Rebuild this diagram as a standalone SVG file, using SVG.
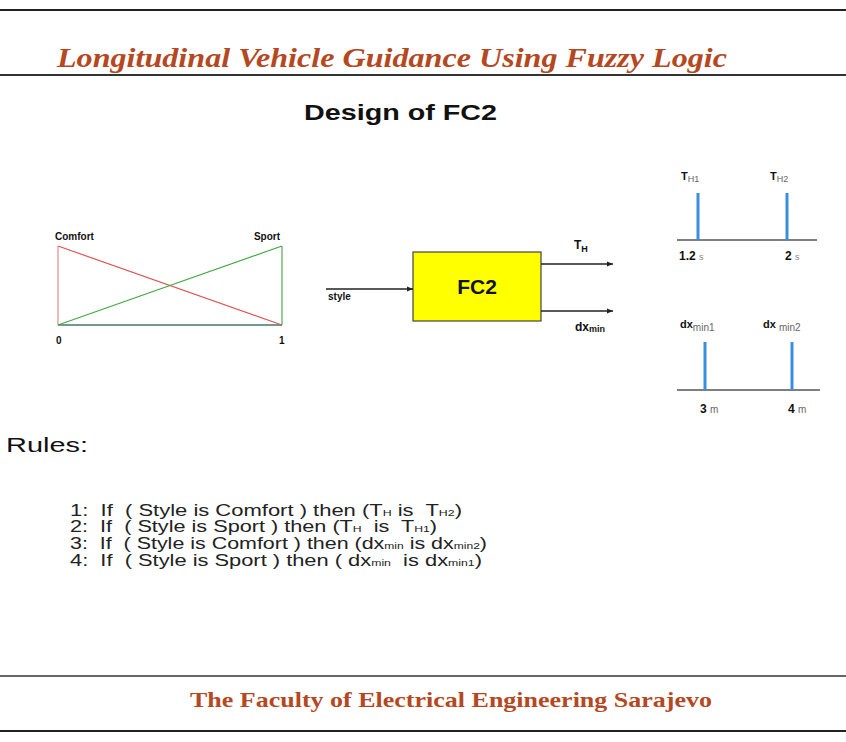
<svg xmlns="http://www.w3.org/2000/svg" width="846" height="742" viewBox="0 0 846 742">
<defs>
<style>
.hdr{font-family:"Liberation Serif",serif;font-weight:bold;fill:#b5481f}
.sans{font-family:"Liberation Sans",Arial,sans-serif;fill:#111}
.b{font-weight:bold}
.rule{font-family:"Liberation Sans",Arial,sans-serif;font-size:16px;fill:#222;white-space:pre}
.bar{stroke:#3a8ee0;stroke-width:3}
.axis{stroke:#555;stroke-width:1.5}
.conn{stroke:#222;stroke-width:1.3;fill:none}
</style>
<marker id="arr" viewBox="0 0 10 10" refX="10" refY="5" markerWidth="12" markerHeight="6" orient="auto" markerUnits="userSpaceOnUse">
<path d="M0,1 L10,5 L0,9 z" fill="#222"/>
</marker>
</defs>
<rect width="846" height="742" fill="#fff"/>
<g id="frame">
<line x1="0" y1="10" x2="846" y2="10" stroke="#222" stroke-width="2"/>
<line x1="0" y1="75" x2="846" y2="75" stroke="#333" stroke-width="2"/>
<line x1="0" y1="676" x2="846" y2="676" stroke="#666" stroke-width="2"/>
<line x1="0" y1="731" x2="846" y2="731" stroke="#222" stroke-width="2"/>
</g>
<g id="title">
<text class="hdr" x="57" y="67" font-size="28" font-style="italic" textLength="670" lengthAdjust="spacingAndGlyphs">Longitudinal Vehicle Guidance Using Fuzzy Logic</text>
</g>
<g id="subtitle">
<text class="sans b" x="304" y="120" font-size="22" textLength="193" lengthAdjust="spacingAndGlyphs">Design of FC2</text>
</g>
<g id="membership">
<line x1="58" y1="246" x2="58" y2="325" stroke="#e88" stroke-width="1.2"/>
<line x1="282" y1="246" x2="282" y2="325" stroke="#5a5" stroke-width="1.2"/>
<line x1="58" y1="325" x2="282" y2="325" stroke="#476" stroke-width="1.5"/>
<line x1="58" y1="246" x2="282" y2="325" stroke="#d55" stroke-width="1.2"/>
<line x1="58" y1="325" x2="282" y2="246" stroke="#4a4" stroke-width="1.2"/>
<text class="sans b" x="55" y="240" font-size="10">Comfort</text>
<text class="sans b" x="280" y="240" font-size="10" text-anchor="end">Sport</text>
<text class="sans b" x="56" y="344" font-size="10">0</text>
<text class="sans b" x="279" y="344" font-size="10">1</text>
</g>
<g id="fc2">
<rect x="413" y="252" width="128" height="69" fill="#ffff00" stroke="#444" stroke-width="1.2"/>
<text class="sans b" x="477" y="294" font-size="21" text-anchor="middle">FC2</text>
</g>
<g id="connectors">
<line class="conn" x1="326" y1="289" x2="413" y2="289" marker-end="url(#arr)"/>
<line class="conn" x1="541" y1="264" x2="613" y2="264" marker-end="url(#arr)"/>
<line class="conn" x1="541" y1="311" x2="613" y2="311" marker-end="url(#arr)"/>
<text class="sans b" x="328" y="300" font-size="10">style</text>
<text class="sans b" x="574" y="249" font-size="12">T<tspan font-size="9" dy="3">H</tspan></text>
<text class="sans b" x="575" y="331" font-size="12">dx<tspan font-size="9" dy="1">min</tspan></text>
</g>
<g id="th-values">
<line class="axis" x1="677" y1="240" x2="817" y2="240"/>
<line class="bar" x1="698" y1="193" x2="698" y2="240"/>
<line class="bar" x1="787" y1="193" x2="787" y2="240"/>
<text class="sans b" x="681" y="180" font-size="11">T<tspan font-size="9" font-weight="normal" fill="#666" dy="2">H1</tspan></text>
<text class="sans b" x="770" y="180" font-size="11">T<tspan font-size="9" font-weight="normal" fill="#666" dy="2">H2</tspan></text>
<text class="sans b" x="679" y="260" font-size="12">1.2 <tspan font-size="9" font-weight="normal" fill="#888">s</tspan></text>
<text class="sans b" x="785" y="260" font-size="12">2 <tspan font-size="9" font-weight="normal" fill="#888">s</tspan></text>
</g>
<g id="dx-values">
<line class="axis" x1="677" y1="390" x2="820" y2="390"/>
<line class="bar" x1="705" y1="342" x2="705" y2="390"/>
<line class="bar" x1="792" y1="342" x2="792" y2="390"/>
<text class="sans b" x="680" y="328" font-size="11">dx<tspan font-size="10" font-weight="normal" fill="#666" dy="3">min1</tspan></text>
<text class="sans b" x="763" y="328" font-size="11">dx <tspan font-size="10" font-weight="normal" fill="#666" dy="3">min2</tspan></text>
<text class="sans b" x="700" y="413" font-size="12">3 <tspan font-size="10" font-weight="normal" fill="#666">m</tspan></text>
<text class="sans b" x="788" y="413" font-size="12">4 <tspan font-size="10" font-weight="normal" fill="#666">m</tspan></text>
</g>
<g id="rules">
<text class="sans" x="6" y="452" font-size="21" fill="#222" textLength="82" lengthAdjust="spacingAndGlyphs">Rules:</text>
<text class="rule" x="70" y="516" textLength="392" lengthAdjust="spacingAndGlyphs">1:  If  ( Style is Comfort ) then (T<tspan font-size="9">H</tspan> is  T<tspan font-size="9">H2</tspan>)</text>
<text class="rule" x="70" y="532" textLength="367" lengthAdjust="spacingAndGlyphs">2:  If  ( Style is Sport ) then (T<tspan font-size="9">H</tspan>  is  T<tspan font-size="9">H1</tspan>)</text>
<text class="rule" x="70" y="549" textLength="417" lengthAdjust="spacingAndGlyphs">3:  If  ( Style is Comfort ) then (dx<tspan font-size="9">min</tspan> is dx<tspan font-size="9">min2</tspan>)</text>
<text class="rule" x="70" y="566" textLength="412" lengthAdjust="spacingAndGlyphs">4:  If  ( Style is Sport ) then ( dx<tspan font-size="9">min</tspan>  is dx<tspan font-size="9">min1</tspan>)</text>
</g>
<g id="footer">
<text class="hdr" x="190" y="707" font-size="22" textLength="522" lengthAdjust="spacingAndGlyphs">The Faculty of Electrical Engineering Sarajevo</text>
</g>
</svg>
